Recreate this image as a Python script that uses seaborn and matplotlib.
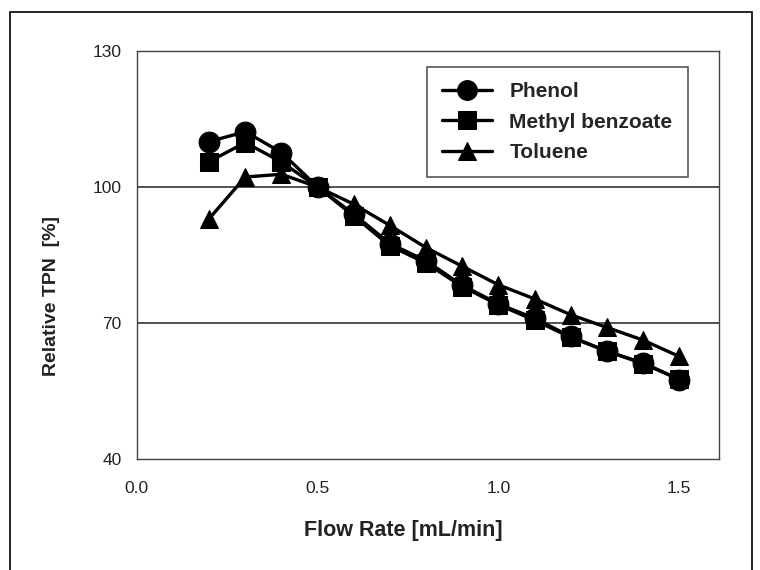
import matplotlib
matplotlib.use("Agg")
import matplotlib.pyplot as plt
import seaborn as sns
import pandas as pd
from matplotlib.patches import Rectangle

flow_rate = [0.2, 0.3, 0.4, 0.5, 0.6, 0.7, 0.8, 0.9, 1.0, 1.1, 1.2, 1.3, 1.4, 1.5]
phenol = [110.0, 112.2, 107.6, 100.0, 94.0, 87.5, 83.7, 78.3, 74.2, 71.0, 67.0, 63.7, 61.2, 57.5]
methyl_benzoate = [105.6, 109.8, 105.5, 100.0, 93.6, 87.0, 83.2, 78.0, 74.0, 70.6, 66.8, 63.8, 61.0, 57.6]
toluene = [93.0, 102.2, 102.8, 100.0, 96.2, 91.5, 86.6, 82.5, 78.4, 75.3, 71.8, 69.0, 66.2, 62.6]
series_names = ["Phenol", "Methyl benzoate", "Toluene"]
x_ticks = [0.0, 0.5, 1.0, 1.5]
y_ticks = [40, 70, 100, 130]

sns.set_style("white")
plt.rcParams["font.family"] = ["Liberation Sans", "DejaVu Sans"]

frames = []
for name, vals in zip(series_names, [phenol, methyl_benzoate, toluene]):
    frames.append(pd.DataFrame({"Flow": flow_rate, "TPN": vals, "Compound": name}))
df = pd.concat(frames, ignore_index=True)

fig = plt.figure(figsize=(7.6, 5.7), dpi=100)
ax = fig.add_axes([0.180, 0.195, 0.766, 0.7155])

# horizontal reference lines
for yv in [70, 100]:
    ax.axhline(yv, color="#444444", lw=1.3, zorder=1)

marker_map = {"Phenol": "o", "Methyl benzoate": "s", "Toluene": "^"}
size_map = {"Phenol": 15, "Methyl benzoate": 13, "Toluene": 13}
order = ["Toluene", "Methyl benzoate", "Phenol"]
for name in order:
    sub = df[df["Compound"] == name]
    sns.lineplot(data=sub, x="Flow", y="TPN", ax=ax, color="black", lw=2.4,
                 marker=marker_map[name], markersize=size_map[name],
                 markeredgecolor="black", markerfacecolor="black",
                 label=name, zorder=3, legend=False)

ax.set_xlim(0, 1.61)
ax.set_ylim(40, 130)
ax.set_xticks(x_ticks)
ax.set_xticklabels([f"{v:.1f}" for v in x_ticks])
ax.set_yticks(y_ticks)
ax.set_yticklabels([str(v) for v in y_ticks])
ax.tick_params(axis="both", length=0, labelsize=12.5, colors="#222222")
ax.tick_params(axis="y", pad=11)
ax.tick_params(axis="x", pad=16)
for sp in ax.spines.values():
    sp.set_visible(True)
    sp.set_color("#444444")
    sp.set_linewidth(1.0)

ax.set_xlabel("Flow Rate [mL/min]", fontsize=15.5, fontweight="bold", color="#222222")
ax.xaxis.set_label_coords(0.458, -0.150)
ax.set_ylabel("Relative TPN  [%]", fontsize=14, fontweight="bold", color="#222222")
ax.yaxis.set_label_coords(-0.132, 0.40)

handles, labels = ax.get_legend_handles_labels()
hmap = dict(zip(labels, handles))
leg = ax.legend([hmap[n] for n in series_names], series_names,
                loc="upper left", bbox_to_anchor=(0.498, 0.961), borderaxespad=0,
                frameon=True, fancybox=False, framealpha=1,
                edgecolor="#555555", prop={"weight": "bold", "size": 15},
                handlelength=2.4, handletextpad=0.85, labelspacing=0.56,
                borderpad=0.72, markerscale=0.95)
leg.get_frame().set_linewidth(1.2)

# outer figure frame
fig.patches.append(Rectangle((10 / 760, -0.02), 742 / 760, 1.02 - 12 / 570,
                             transform=fig.transFigure, fill=False,
                             edgecolor="black", lw=1.2))

fig.savefig("out.png", dpi=100)
